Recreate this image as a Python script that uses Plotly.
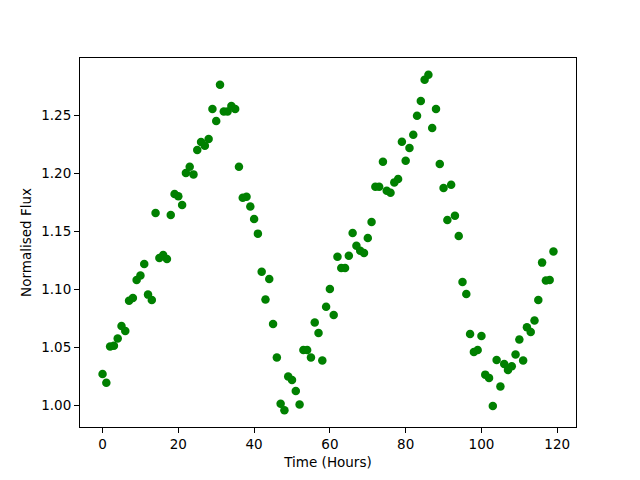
import plotly.graph_objects as go

hours = list(range(120))
flux = [
    1.0273, 1.0196, 1.0509, 1.0517, 1.0578, 1.0687, 1.0644, 1.0905, 1.0928, 1.1083,
    1.1121, 1.1221, 1.0957, 1.0911, 1.1661, 1.1273, 1.1299, 1.1264, 1.1644, 1.1825,
    1.1805, 1.1730, 1.2006, 1.2060, 1.1994, 1.2204, 1.2273, 1.2241, 1.2299, 1.2558,
    1.2454, 1.2767, 1.2537, 1.2537, 1.2584, 1.2558, 1.2060, 1.1793, 1.1802, 1.1716,
    1.1609, 1.1483, 1.1155, 1.0914, 1.1092, 1.0704, 1.0414, 1.0015, 0.9960, 1.0250,
    1.0221, 1.0126, 1.0009, 1.0480, 1.0480, 1.0414, 1.0716, 1.0627, 1.0388, 1.0853,
    1.1006, 1.0782, 1.1284, 1.1187, 1.1187, 1.1293, 1.1489, 1.1379, 1.1336, 1.1316,
    1.1445, 1.1583, 1.1888, 1.1888, 1.2103, 1.1853, 1.1836, 1.1925, 1.1954, 1.2276,
    1.2112, 1.2221, 1.2336, 1.2500, 1.2627, 1.2810, 1.2853, 1.2394, 1.2558, 1.2084,
    1.1876, 1.1601, 1.1905, 1.1638, 1.1463, 1.1066, 1.0963, 1.0618, 1.0463, 1.0480,
    1.0601, 1.0267, 1.0239, 0.9997, 1.0394, 1.0164, 1.0359, 1.0308, 1.0339, 1.0440,
    1.0569, 1.0388, 1.0675, 1.0635, 1.0733, 1.0911, 1.1233, 1.1078, 1.1084, 1.1328,
]
x_ticks = [0, 20, 40, 60, 80, 100, 120]
y_ticks = [1.00, 1.05, 1.10, 1.15, 1.20, 1.25]

fig = go.Figure()
fig.add_trace(go.Scatter(
    x=hours, y=flux, mode="markers",
    marker=dict(color="#008000", size=8.5, line=dict(width=0)),
    showlegend=False,
))

xmin, xmax = min(hours), max(hours)
ymin, ymax = min(flux), max(flux)
xpad = (xmax - xmin) * 0.05
ypad = (ymax - ymin) * 0.05

axis_common = dict(
    showline=True, linecolor="black", linewidth=1, mirror=True,
    ticks="outside", ticklen=5, tickwidth=1, tickcolor="black",
    showgrid=False, zeroline=False,
    tickfont=dict(family="DejaVu Sans", size=13.5, color="black"),
)

fig.update_layout(
    width=632, height=472,
    margin=dict(l=72, r=64, t=50, b=53),
    paper_bgcolor="white", plot_bgcolor="white",
    font=dict(family="DejaVu Sans", size=13.5, color="black"),
    xaxis=dict(range=[xmin - xpad, xmax + xpad], tickvals=x_ticks,
               ticktext=[str(v) for v in x_ticks],
               title=dict(text="Time (Hours)", standoff=6,
                          font=dict(family="DejaVu Sans", size=13.5)),
               **axis_common),
    yaxis=dict(range=[ymin - ypad, ymax + ypad], tickvals=y_ticks,
               ticktext=[f"{v:.2f}" for v in y_ticks],
               title=dict(text="Normalised Flux", standoff=6,
                          font=dict(family="DejaVu Sans", size=13.5)),
               **axis_common),
)

fig.write_html("out.html")
